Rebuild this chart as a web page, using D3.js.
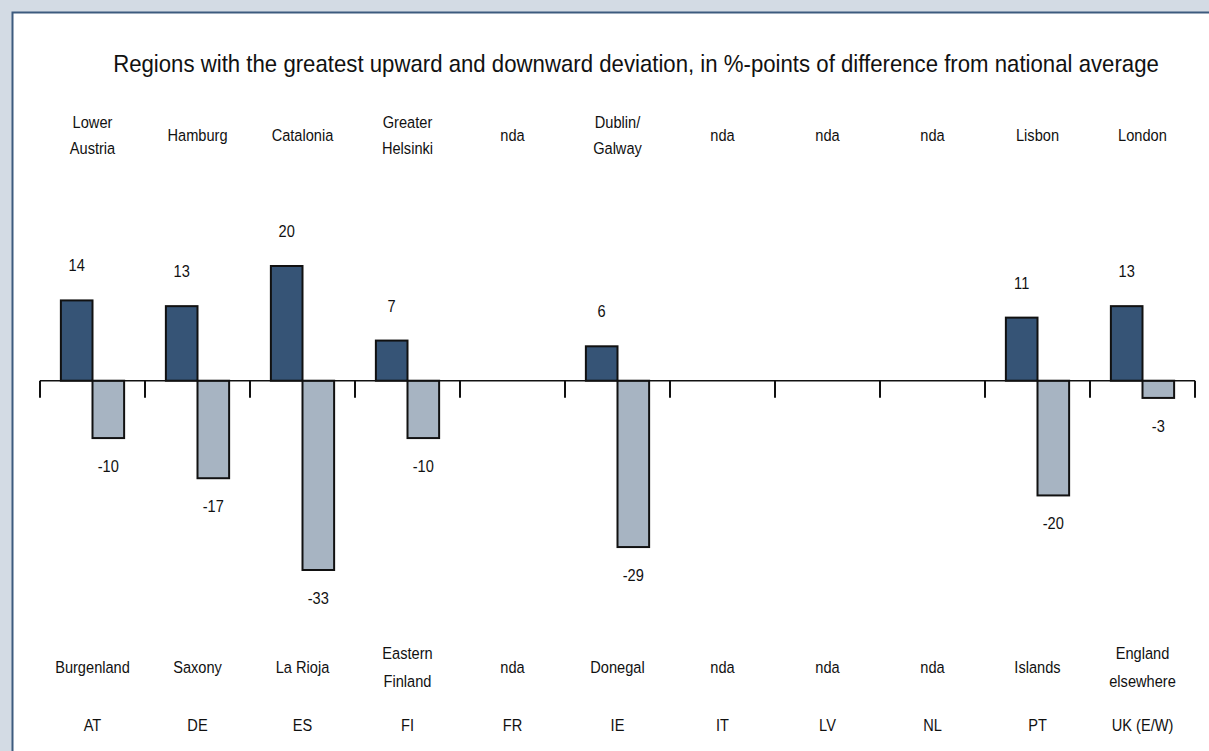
<!DOCTYPE html>
<html>
<head>
<meta charset="utf-8">
<script src="https://cdn.jsdelivr.net/npm/d3@7"></script>
<style>
  html, body { margin: 0; padding: 0; background: #d3dbe4; }
  svg { display: block; }
  text { font-family: "Liberation Sans Narrow", "Arial Narrow", "Liberation Sans", Arial, sans-serif; fill: #111; }
</style>
</head>
<body>
<svg id="chart" width="1209" height="751"></svg>
<script>
const countries = ["AT", "DE", "ES", "FI", "FR", "IE", "IT", "LV", "NL", "PT", "UK (E/W)"];
const upperRegions = [["Lower", "Austria"], ["Hamburg"], ["Catalonia"], ["Greater", "Helsinki"], ["nda"], ["Dublin/", "Galway"], ["nda"], ["nda"], ["nda"], ["Lisbon"], ["London"]];
const lowerRegions = [["Burgenland"], ["Saxony"], ["La Rioja"], ["Eastern", "Finland"], ["nda"], ["Donegal"], ["nda"], ["nda"], ["nda"], ["Islands"], ["England", "elsewhere"]];
const highValues = [14, 13, 20, 7, null, 6, null, null, null, 11, 13];
const lowValues = [-10, -17, -33, -10, null, -29, null, null, null, -20, -3];
const titleText = "Regions with the greatest upward and downward deviation, in %-points of difference from national average";

const SX = 0.86; // horizontal condensing to mimic the narrow face

const svg = d3.select("#chart");

// panel
svg.append("rect")
  .attr("x", 12.5).attr("y", 12.5)
  .attr("width", 1230).attr("height", 780)
  .attr("fill", "#ffffff")
  .attr("stroke", "#3d5b7e").attr("stroke-width", 2);

function label(g, lines, cx, cy, lh, size) {
  const t = g.append("text")
    .attr("text-anchor", "middle")
    .attr("font-size", size)
    .attr("transform", `translate(${cx},0) scale(${SX},1)`);
  const n = lines.length;
  lines.forEach((ln, j) => {
    t.append("tspan").attr("x", 0).attr("y", cy + (j - (n - 1) / 2) * lh).text(ln);
  });
  return t;
}

label(svg, [titleText], 636, 72, 0, 24).attr("transform", `translate(636,0) scale(0.925,1)`);

const x = d3.scaleBand().domain(countries).range([40, 1195]).paddingInner(0).paddingOuter(0);
const y = d3.scaleLinear().domain([-33, 20]).range([570, 266]);

const inner = d3.scaleBand().domain(["high", "low"]).range([0, x.bandwidth()]).paddingInner(0).paddingOuter(0.66);

// bars
const bars = [];
countries.forEach((c, i) => {
  if (highValues[i] !== null) bars.push({c, k: "high", v: highValues[i]});
  if (lowValues[i] !== null) bars.push({c, k: "low", v: lowValues[i]});
});

svg.append("g").selectAll("rect").data(bars).join("rect")
  .attr("x", d => x(d.c) + inner(d.k))
  .attr("width", inner.bandwidth())
  .attr("y", d => Math.min(y(d.v), y(0)))
  .attr("height", d => Math.abs(y(d.v) - y(0)))
  .attr("fill", d => d.k === "high" ? "#365476" : "#a7b4c2")
  .attr("stroke", "#111").attr("stroke-width", 2);

// axis at zero
const axis = d3.axisBottom(x).tickSize(0).tickFormat("");
const gAxis = svg.append("g").attr("transform", `translate(0,${y(0)})`).call(axis);
gAxis.select(".domain").attr("stroke", "#111").attr("stroke-width", 1.5).attr("d", `M40,0H1195`);
const tickPos = countries.map(c => x(c)).concat([x.range()[1]]);
gAxis.selectAll(".sep").data(tickPos).join("line")
  .attr("class", "sep")
  .attr("x1", d => d).attr("x2", d => d)
  .attr("y1", 0).attr("y2", 17)
  .attr("stroke", "#111").attr("stroke-width", 2);

// value labels
const gVal = svg.append("g");
bars.forEach(d => {
  label(gVal, [String(d.v)], x(d.c) + inner(d.k) + inner.bandwidth() / 2,
        d.v >= 0 ? y(d.v) - 29 : y(d.v) + 34, 0, 17);
});

const gUp = svg.append("g");
upperRegions.forEach((lines, i) => label(gUp, lines, x(countries[i]) + x.bandwidth() / 2, 141, 26, 17));
const gLo = svg.append("g");
lowerRegions.forEach((lines, i) => label(gLo, lines, x(countries[i]) + x.bandwidth() / 2, 673, 28, 17));
const gC = svg.append("g");
countries.forEach((c, i) => label(gC, [c], x(c) + x.bandwidth() / 2, 731, 0, 17));
</script>
</body>
</html>
